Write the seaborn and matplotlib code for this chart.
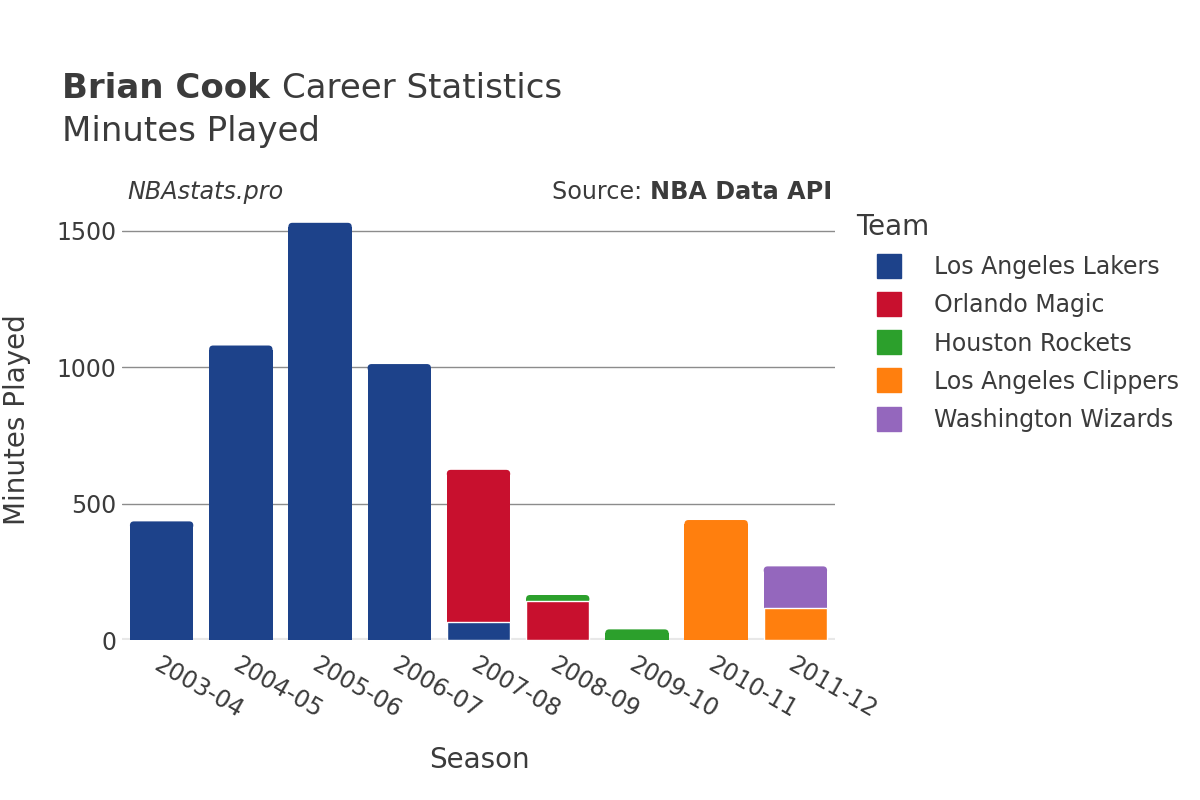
import seaborn as sns
import pandas as pd
from matplotlib import pyplot as plt
from matplotlib.lines import Line2D
from matplotlib.patches import FancyBboxPatch

seasons = ['2003-04', '2004-05', '2005-06', '2006-07', '2007-08',
           '2008-09', '2009-10', '2010-11', '2011-12']
teams = ['Los Angeles Lakers', 'Orlando Magic', 'Houston Rockets',
         'Los Angeles Clippers', 'Washington Wizards']
lakers = [435, 1080, 1530, 1012, 67, 0, 0, 0, 0]
magic = [0, 0, 0, 0, 557, 142, 0, 0, 0]
rockets = [0, 0, 0, 0, 0, 23, 39, 0, 0]
clippers = [0, 0, 0, 0, 0, 0, 0, 440, 117]
wizards = [0, 0, 0, 0, 0, 0, 0, 0, 153]
colors = ['#1d428a', '#c8102e', '#2ca02c', '#ff7f0e', '#9467bd']

txt = '#3b3b3b'
sns.set_theme(style='white')
plt.rcParams['font.family'] = ['DejaVu Sans']
plt.rcParams['text.color'] = txt

rows = []
for team, vals in zip(teams, [lakers, magic, rockets, clippers, wizards]):
    for s, v in zip(seasons, vals):
        if v > 0:
            rows.append({'season': s, 'team': team, 'minutes': v})
df = pd.DataFrame(rows)
df['team'] = pd.Categorical(df['team'], categories=teams, ordered=True)
df = df.sort_values(['season', 'team'])
df['top'] = df.groupby('season')['minutes'].cumsum()
totals = df.groupby('season')['minutes'].sum()

fig = plt.figure(figsize=(12, 8), dpi=100)
ax = fig.add_axes([122 / 1200, 0.2, (835 - 122) / 1200, (640 - 201) / 800])

# overlay approach: draw cumulative tops, last team first
for team, col in reversed(list(zip(teams, colors))):
    sub = df[df['team'] == team]
    sns.barplot(data=sub, x='season', y='top', order=seasons, color=col,
                saturation=1, width=0.8, errorbar=None, ax=ax,
                edgecolor='white', linewidth=1)

ymax = 1610
ax.set_ylim(0, ymax)
ax.set_xlim(-0.5, len(seasons) - 0.5)

# rounded tops on the topmost segment of each stack
px_x = (835 - 122) / len(seasons)
px_y = (640 - 201) / ymax
r = 4
rx, ry = r / px_x, r / px_y
for p in list(ax.patches):
    h = p.get_height()
    if h != h or h <= 0:
        continue
    i = int(round(p.get_x() + p.get_width() / 2))
    if abs(h - totals[seasons[i]]) < 0.5:
        p.set_height(h - ry)
        p.set_edgecolor('none')
        fb = FancyBboxPatch((p.get_x(), h - 2 * ry), p.get_width(), 2 * ry,
                            boxstyle=f'round,pad=0,rounding_size={rx}',
                            mutation_aspect=ry / rx, facecolor=p.get_facecolor(),
                            edgecolor='none', zorder=0.9)
        ax.add_patch(fb)

ax.set_yticks([0, 500, 1000, 1500])
ax.yaxis.grid(True, color='#8c8c8c', linewidth=1)
ax.set_axisbelow(True)
ax.axhline(0, color='#e8e8e8', linewidth=3, zorder=0.6)
for sp in ax.spines.values():
    sp.set_visible(False)
ax.tick_params(axis='both', length=0, labelsize=17, colors=txt)
ax.tick_params(axis='y', pad=4)
ax.tick_params(axis='x', pad=9)
plt.setp(ax.get_xticklabels(), rotation=-30, ha='left', va='top',
         rotation_mode='anchor')
ax.set_xlabel('')
ax.set_ylabel('')

fig.text(17 / 1200, 1 - 420 / 800, 'Minutes Played', rotation=90, fontsize=20,
         ha='center', va='center', color=txt)
fig.text(479 / 1200, 1 - 760 / 800, 'Season', fontsize=20, ha='center',
         va='center', color=txt)

t1 = fig.text(62 / 1200, 1 - 88 / 800, 'Brian Cook ', fontsize=24.5,
              fontweight='bold', ha='left', va='center', color=txt)
fig.text(62 / 1200, 1 - 132 / 800, 'Minutes Played', fontsize=24.5,
         ha='left', va='center', color=txt)
fig.text(127 / 1200, 1 - 192 / 800, 'NBAstats.pro', fontsize=17.2,
         style='italic', ha='left', va='center', color=txt)
t2 = fig.text(832 / 1200, 1 - 192 / 800, 'NBA Data API', fontsize=17.2,
              fontweight='bold', ha='right', va='center', color=txt)

fig.canvas.draw()
rend = fig.canvas.get_renderer()
b1 = t1.get_window_extent(rend)
fig.text(b1.x1 / 1200, 1 - 88 / 800, 'Career Statistics', fontsize=24.5,
         ha='left', va='center', color=txt)
b2 = t2.get_window_extent(rend)
fig.text(b2.x0 / 1200, 1 - 192 / 800, 'Source: ', fontsize=17.2,
         ha='right', va='center', color=txt)

handles = [Line2D([0], [0], marker='s', linestyle='none', markersize=17,
                  markerfacecolor=c, markeredgecolor=c) for c in colors]
leg = fig.legend(handles, teams, loc='upper left',
                 bbox_to_anchor=(849 / 1200, 1 - 206 / 800), frameon=False,
                 title='Team', fontsize=17, title_fontsize=20,
                 labelspacing=0.6, handlelength=2.8, handletextpad=0.5,
                 borderaxespad=0, borderpad=0.3)
leg._legend_box.align = 'left'
for t in leg.get_texts():
    t.set_color(txt)
leg.get_title().set_color(txt)

fig.savefig('out.png', dpi=100)
